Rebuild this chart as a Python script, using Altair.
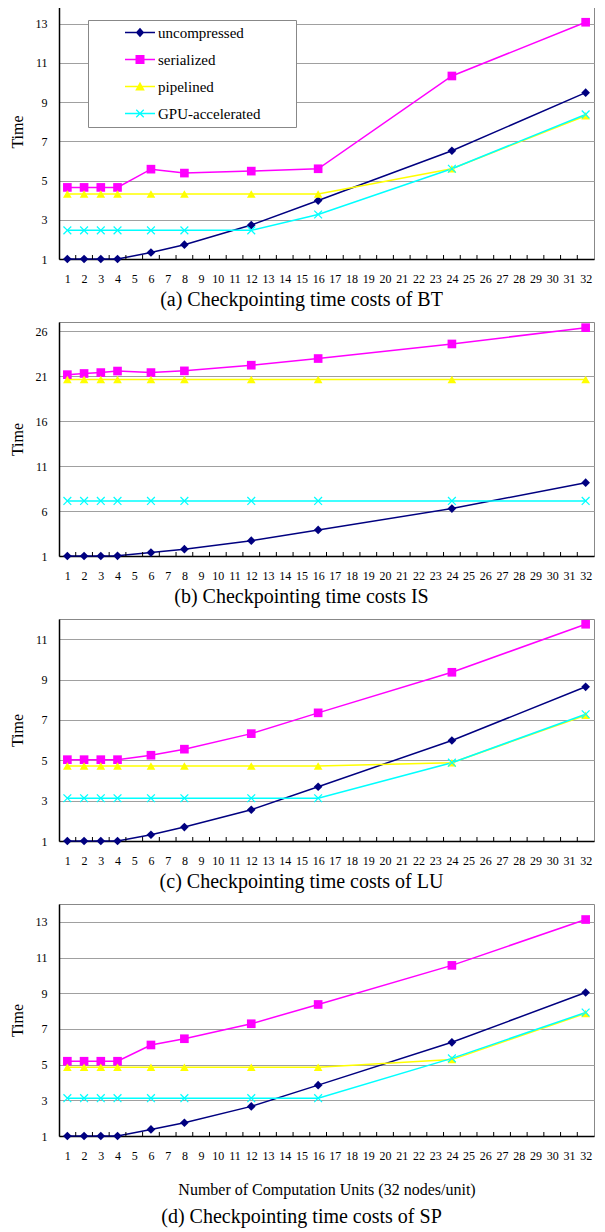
import altair as alt
import pandas as pd

units = [1, 2, 3, 4, 6, 8, 12, 16, 24, 32]
series = ["uncompressed", "serialized", "pipelined", "GPU-accelerated"]
colors = ["#000080", "#FF00FF", "#FFFF00", "#00FFFF"]
x_path = "M-1,-0.8L-0.8,-1L0,-0.2L0.8,-1L1,-0.8L0.2,0L1,0.8L0.8,1L0,0.2L-0.8,1L-1,0.8L-0.2,0Z"
shapes = ["diamond", "square", "triangle-up", x_path]
# legend symbols: short line with the marker in its middle
seg = "M-2,-0.1L2,-0.1L2,0.1L-2,0.1Z"
legend_shapes = [
    seg + "M0,-0.64L0.56,0L0,0.64L-0.56,0Z",
    seg + "M-0.6,-0.6L0.6,-0.6L0.6,0.6L-0.6,0.6Z",
    seg + "M0,-0.64L0.64,0.52L-0.64,0.52Z",
    seg + "M-0.56,-0.44L-0.44,-0.56L0,-0.12L0.44,-0.56L0.56,-0.44L0.12,0L0.56,0.44L0.44,0.56L0,0.12L-0.44,0.56L-0.56,0.44L-0.12,0Z",
]
x_labels = list(range(1, 33))
x_tick_marks = [i + 0.5 for i in range(1, 32)]

# (a) BT
bt_unc = [1.0, 1.0, 1.0, 1.0, 1.33, 1.73, 2.73, 3.98, 6.52, 9.48]
bt_ser = [4.65, 4.65, 4.65, 4.65, 5.58, 5.38, 5.48, 5.6, 10.33, 13.07]
bt_pip = [4.31, 4.31, 4.31, 4.31, 4.31, 4.31, 4.31, 4.31, 5.6, 8.3]
bt_gpu = [2.46, 2.46, 2.46, 2.46, 2.46, 2.46, 2.46, 3.27, 5.6, 8.37]
# (b) IS
is_unc = [1.0, 1.0, 1.0, 1.02, 1.38, 1.76, 2.7, 3.9, 6.27, 9.15]
is_ser = [21.15, 21.28, 21.38, 21.55, 21.38, 21.57, 22.2, 22.94, 24.56, 26.37]
is_pip = [20.62, 20.62, 20.62, 20.62, 20.62, 20.62, 20.62, 20.62, 20.62, 20.62]
is_gpu = [7.12, 7.12, 7.12, 7.12, 7.12, 7.12, 7.12, 7.12, 7.12, 7.12]
# (c) LU
lu_unc = [1.0, 1.0, 1.0, 1.0, 1.31, 1.69, 2.55, 3.69, 5.98, 8.64]
lu_ser = [5.03, 5.03, 5.03, 5.03, 5.25, 5.55, 6.32, 7.35, 9.36, 11.74]
lu_pip = [4.72, 4.72, 4.72, 4.72, 4.72, 4.72, 4.72, 4.72, 4.88, 7.23]
lu_gpu = [3.12, 3.12, 3.12, 3.12, 3.12, 3.12, 3.12, 3.12, 4.88, 7.28]
# (d) SP
sp_unc = [1.0, 1.0, 1.0, 1.0, 1.37, 1.74, 2.66, 3.85, 6.25, 9.04]
sp_ser = [5.19, 5.19, 5.19, 5.19, 6.1, 6.45, 7.29, 8.37, 10.56, 13.13]
sp_pip = [4.85, 4.85, 4.85, 4.85, 4.85, 4.85, 4.85, 4.85, 5.28, 7.87]
sp_gpu = [3.12, 3.12, 3.12, 3.12, 3.12, 3.12, 3.12, 3.12, 5.35, 7.92]

captions = [
    "(a) Checkpointing time costs of BT",
    "(b) Checkpointing time costs IS",
    "(c) Checkpointing time costs of LU",
    "(d) Checkpointing time costs of SP",
]
y_domains = [[1, 14], [1, 27], [1, 12], [1, 14]]
y_ticks = [[1, 3, 5, 7, 9, 11, 13], [1, 6, 11, 16, 21, 26], [1, 3, 5, 7, 9, 11], [1, 3, 5, 7, 9, 11, 13]]
heights = [255, 234, 222, 232]
data_sets = [
    [bt_unc, bt_ser, bt_pip, bt_gpu],
    [is_unc, is_ser, is_pip, is_gpu],
    [lu_unc, lu_ser, lu_pip, lu_gpu],
    [sp_unc, sp_ser, sp_pip, sp_gpu],
]
x_title = "Number of Computation Units (32 nodes/unit)"

SERIF = "Liberation Serif"
W = 535
PAD_TAIL = "        \u200b"  # keeps the legend box as wide as the original one


def make_panel(i):
    rows = []
    for s, vals in zip(series, data_sets[i]):
        for u, v in zip(units, vals):
            rows.append({"units": u, "time": v, "series": s})
    df = pd.DataFrame(rows)
    h = heights[i]
    xscale = alt.Scale(domain=[0.5, 32.5], nice=False, zero=False)
    yscale = alt.Scale(domain=y_domains[i], nice=False, zero=False)
    xaxis_kw = dict(values=x_labels, ticks=False, tickSize=0, grid=False, labelPadding=14,
                    domainColor="black", domainWidth=1.5, labelFlush=False, labelOverlap=False)
    if i == 3:
        xaxis = alt.Axis(title=x_title, titlePadding=20, titleFontSize=16, **xaxis_kw)
    else:
        xaxis = alt.Axis(title=None, **xaxis_kw)
    yaxis = alt.Axis(values=y_ticks[i], ticks=False, tickSize=0, labelPadding=12, grid=True,
                     gridColor="#a0a0a0", gridWidth=1, domainColor="black", domainWidth=1.5,
                     title="Time", titleFontSize=16, titlePadding=10)
    base = alt.Chart(df)
    x_enc = alt.X("units:Q", scale=xscale, axis=xaxis)
    y_enc = alt.Y("time:Q", scale=yscale, axis=yaxis)
    lines = base.mark_line(strokeWidth=1.5).encode(
        x=x_enc, y=y_enc,
        stroke=alt.Stroke("series:N", scale=alt.Scale(domain=series, range=colors), legend=None),
        detail="series:N",
    )
    points = base.mark_point(filled=True, size=75, opacity=1).encode(
        x=x_enc, y=y_enc,
        color=alt.Color("series:N", scale=alt.Scale(domain=series, range=colors), legend=None),
        shape=alt.Shape("series:N", scale=alt.Scale(domain=series, range=shapes), legend=None),
    )
    tick_df = pd.DataFrame({"units": x_tick_marks})
    tick_rules = alt.Chart(tick_df).mark_rule(color="black", strokeWidth=1).encode(
        x=x_enc,
        y=alt.value(h),
        y2=alt.value(h - 4),
    )
    layers = [lines, points, tick_rules]
    if i == 0:
        leg = alt.Legend(orient="none", legendX=29, legendY=16, title=None,
                         labelFont=SERIF, labelFontSize=15, labelColor="black",
                         symbolSize=225, symbolStrokeWidth=0, padding=5, rowPadding=11,
                         strokeColor="#888888", fillColor="white",
                         symbolOffset=39.5, labelOffset=10.5,
                         labelExpr="datum.label + '" + PAD_TAIL + "'")
        legend_layer = base.transform_filter("false").mark_point(filled=True, opacity=1).encode(
            x=x_enc, y=y_enc,
            color=alt.Color("series:N", scale=alt.Scale(domain=series, range=colors), legend=leg),
            shape=alt.Shape("series:N", scale=alt.Scale(domain=series, range=legend_shapes), legend=leg),
        )
        layers.append(legend_layer)
        layer = alt.layer(*layers).resolve_scale(color="independent", shape="independent")
    else:
        layer = alt.layer(*layers)
    return layer.properties(
        width=W, height=h,
        title=alt.TitleParams(text=captions[i], orient="bottom", offset=10 if i == 3 else 6, dx=-25,
                              font=SERIF, fontSize=20, fontWeight="normal", color="black"),
    )


chart = alt.vconcat(*[make_panel(i) for i in range(4)], spacing=10).resolve_legend(
    color="independent", shape="independent"
).properties(
    padding={"left": 0, "top": -5, "right": 0, "bottom": 0}
).configure_view(
    stroke="#888888", strokeWidth=1
).configure_axis(
    labelFont=SERIF, labelFontSize=12, labelColor="black",
    titleFont=SERIF, titleFontWeight="normal", titleColor="black",
)

chart.save("out.html", embed_options={"renderer": "svg", "actions": False})
